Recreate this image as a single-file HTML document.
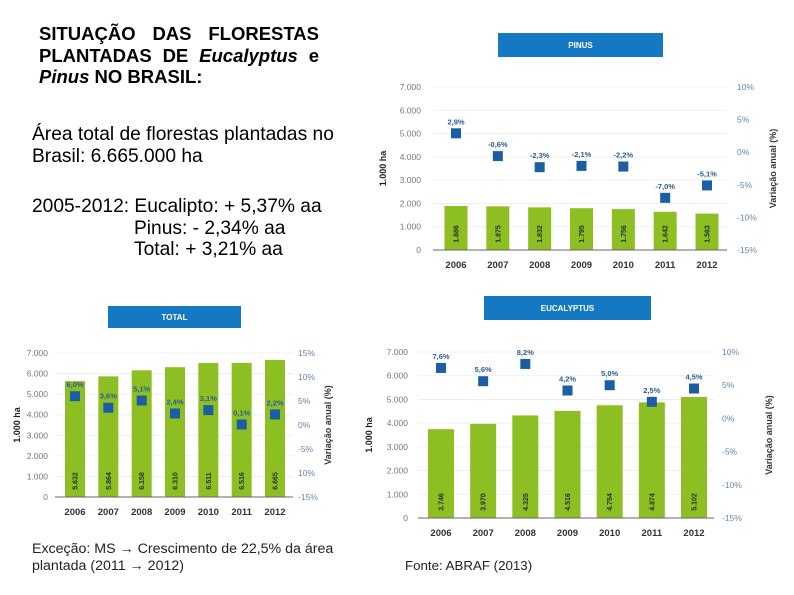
<!DOCTYPE html>
<html><head><meta charset="utf-8">
<style>
body{margin:0;width:794px;height:595px;background:#fff;overflow:hidden;position:relative;font-family:"Liberation Sans",sans-serif}
.t{position:absolute;white-space:nowrap;color:#000}
.j{text-align:justify;text-align-last:justify;white-space:normal}
svg{position:absolute;left:0;top:0}
</style></head><body>
<div class="t" style="left:39px;top:23px;font-size:18.5px;font-weight:bold;line-height:21.5px;width:280px">
<div class="j">SITUAÇÃO DAS FLORESTAS</div>
<div class="j">PLANTADAS DE <i>Eucalyptus</i> e</div>
<div><i>Pinus</i> NO BRASIL:</div></div>
<div class="t" style="left:32px;top:124px;font-size:19.2px;line-height:21.5px">Área total de florestas plantadas no<br>Brasil: 6.665.000 ha</div>
<div class="t" style="left:32px;top:196px;font-size:19.2px;line-height:21.5px">2005-2012: Eucalipto: + 5,37% aa<br><span style="padding-left:102px">Pinus: - 2,34% aa</span><br><span style="padding-left:102px">Total: + 3,21% aa</span></div>
<div class="t" style="left:32px;top:541px;font-size:14.2px;line-height:17px;color:#222">Exceção: MS → Crescimento de 22,5% da área<br>plantada (2011 → 2012)</div>
<div class="t" style="left:405px;top:558px;font-size:13.3px;color:#222">Fonte: ABRAF (2013)</div>
<svg id="s" width="794" height="595"></svg>
<script>
const years=["2006","2007","2008","2009","2010","2011","2012"];
const pinusArea=[1886,1875,1832,1795,1756,1642,1563];
const pinusPct=[2.9,-0.6,-2.3,-2.1,-2.2,-7.0,-5.1];
const pinusPctLabels=["2,9%","-0,6%","-2,3%","-2,1%","-2,2%","-7,0%","-5,1%"];
const pinusAreaLabels=["1.886","1.875","1.832","1.795","1.756","1.642","1.563"];
const totalArea=[5632,5864,6158,6310,6511,6516,6665];
const totalPct=[6.0,3.6,5.1,2.4,3.1,0.1,2.2];
const totalPctLabels=["6,0%","3,6%","5,1%","2,4%","3,1%","0,1%","2,2%"];
const totalAreaLabels=["5.632","5.864","6.158","6.310","6.511","6.516","6.665"];
const eucArea=[3746,3970,4325,4516,4754,4874,5102];
const eucPct=[7.6,5.6,8.2,4.2,5.0,2.5,4.5];
const eucPctLabels=["7,6%","5,6%","8,2%","4,2%","5,0%","2,5%","4,5%"];
const eucAreaLabels=["3.746","3.970","4.325","4.516","4.754","4.874","5.102"];
const leftTicks=[0,1000,2000,3000,4000,5000,6000,7000];
const leftTickLabels=["0","1.000","2.000","3.000","4.000","5.000","6.000","7.000"];
const totalLeftTickLabels=["0","1.000","2.000","3.000","4.000","5.000","6.000","7.000"];
const rightTicks=[-15,-10,-5,0,5,10];
const rightTickLabels=["-15%","-10%","-5%","0%","5%","10%"];
const totalRightTicks=[-15,-10,-5,0,5,10,15];
const totalRightTickLabels=["-15%","10%","-5%","0%","5%","10%","15%"];

const S=document.getElementById('s');const NS="http://www.w3.org/2000/svg";
function mk(t,a,txt){const e=document.createElementNS(NS,t);for(const k in a)e.setAttribute(k,a[k]);if(txt!==undefined)e.textContent=txt;S.appendChild(e);return e;}

function chart(c){
  const yL=v=>c.y0-(v/7000)*(c.y0-c.y1);
  const yR=v=>c.y0-((v-c.rmin)/(c.rmax-c.rmin))*(c.y0-c.y1);
  const xC=i=>c.xa+i*(c.xb-c.xa)/6;
  let e=mk('rect',{x:c.bx,y:c.by,width:c.bw,height:c.bh,fill:'#1578c2'});
  
  e=mk('text',{x:c.bx+c.bw/2,y:c.by+c.bh/2+3,'text-anchor':'middle','font-size':8,'font-weight':'bold',fill:'#fff'},c.title);
  
  leftTicks.forEach((v,i)=>{
    if(v>0){e=mk('line',{x1:c.gx0,x2:c.gx1,y1:yL(v),y2:yL(v),stroke:'#ececec','stroke-width':0.8});
    }
    e=mk('text',{x:c.lx,y:yL(v)+3,'text-anchor':'end','font-size':8.5,fill:'#777'},c.ll[i]);
    
  });
  c.rt.forEach((v,i)=>{
    e=mk('text',{x:c.rx,y:yR(v)+3,'font-size':8.5,fill:'#6688aa'},c.rl[i]);
    
  });
  c.area.forEach((v,i)=>{
    e=mk('rect',{x:xC(i)-c.w/2,y:yL(v),width:c.w,height:c.y0-yL(v),fill:'#8dbe22'});
    
    const ty=c.y0-16;
    e=mk('text',{x:xC(i)+2.5,y:ty,'text-anchor':'middle','font-size':7,'font-weight':'bold',fill:'#233',transform:`rotate(-90 ${xC(i)+2.5} ${ty})`},c.al[i]);
    
    e=mk('text',{x:xC(i),y:c.y0+18,'text-anchor':'middle','font-size':9.5,'font-weight':'bold',fill:'#333'},years[i]);
    
  });
  e=mk('line',{x1:c.gx0,x2:c.gx1,y1:c.y0,y2:c.y0,stroke:'#666','stroke-width':1});
  
  c.pct.forEach((v,i)=>{
    const y=yR(v);
    e=mk('rect',{x:xC(i)-5,y:y-5,width:10,height:10,fill:'#1b5ea6'});
    
    e=mk('text',{x:xC(i),y:y-9,'text-anchor':'middle','font-size':7.5,'font-weight':'bold',fill:'#2a5d94'},c.pl[i]);
    
  });
  const my=(c.y0+c.y1)/2;
  e=mk('text',{x:c.ytx,y:my,'text-anchor':'middle','font-size':9,'font-weight':'bold',fill:'#222',transform:`rotate(-90 ${c.ytx} ${my})`},'1.000 ha');
  
  e=mk('text',{x:c.rtx,y:my,'text-anchor':'middle','font-size':9,'font-weight':'bold',fill:'#333',transform:`rotate(-90 ${c.rtx} ${my})`},'Variação anual (%)');
  
}
chart({id:'pinus',title:'PINUS',bx:498,by:33,bw:165,bh:24,y0:250,y1:87,rmin:-15,rmax:10,xa:456,xb:707,w:23,gx0:433,gx1:727,lx:421,rx:737,ytx:386,rtx:776,
  area:pinusArea,pct:pinusPct,pl:pinusPctLabels,al:pinusAreaLabels,ll:leftTickLabels,rt:rightTicks,rl:rightTickLabels});
chart({id:'total',title:'TOTAL',bx:108,by:306,bw:133,bh:22,y0:497,y1:353,rmin:-15,rmax:15,xa:75,xb:275,w:20,gx0:55,gx1:293,lx:48,rx:298,ytx:20,rtx:331,
  area:totalArea,pct:totalPct,pl:totalPctLabels,al:totalAreaLabels,ll:totalLeftTickLabels,rt:totalRightTicks,rl:totalRightTickLabels});
chart({id:'eucalyptus',title:'EUCALYPTUS',bx:484,by:296,bw:167,bh:24,y0:518,y1:352,rmin:-15,rmax:10,xa:441,xb:694,w:26,gx0:418,gx1:714,lx:408,rx:722,ytx:372,rtx:772,
  area:eucArea,pct:eucPct,pl:eucPctLabels,al:eucAreaLabels,ll:leftTickLabels,rt:rightTicks,rl:rightTickLabels});
</script>
</body></html>
